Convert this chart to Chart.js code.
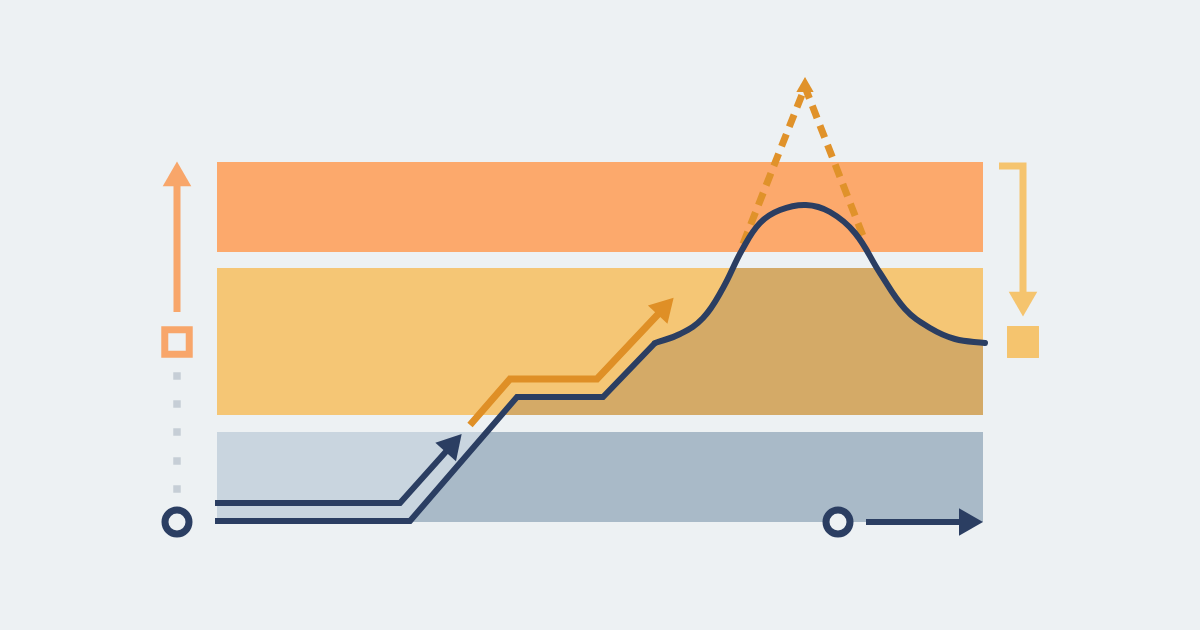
<!DOCTYPE html>
<html lang="en">
<head>
    <meta charset="UTF-8">
    <title>Band Climb Chart</title>
    <script src="https://cdn.jsdelivr.net/npm/chart.js"></script>
    <style>
        html, body {
            margin: 0;
            padding: 0;
            background: #edf1f3;
        }
        .chart-container {
            width: 1200px;
            height: 630px;
        }
    </style>
</head>
<body>
    <div class="chart-container">
        <canvas id="myChart"></canvas>
    </div>

    <script>
        // bands
        const bandLabels = ['upper', 'middle', 'lower'];
        const bandTop = [162, 268, 432];
        const bandBottom = [252, 415, 522];
        const bandFrom = [217, 217, 217];
        const bandTo = [983, 983, 983];

        // main navy line: stepped part, then the bell
        const stepX = [215, 410, 517, 603, 655];
        const stepY = [521, 521, 397, 397, 343];
        const peakX = [655, 680, 703, 723, 742, 760, 780, 806, 830, 855, 880, 905, 930, 955, 985];
        const peakY = [343, 334, 318, 288, 250, 223, 210, 205, 212, 233, 273, 309, 328, 339, 343];

        // arrows
        const guideX = [215, 400, 451];
        const guideY = [503, 503, 446];
        const climbX = [470, 510, 597, 663];
        const climbY = [425, 379, 379, 309];
        const spikeX = [743, 805, 863];
        const spikeY = [244, 87, 236];
        const riseX = [177, 177];
        const riseY = [312, 178];
        const dropX = [999, 1023, 1023];
        const dropY = [166, 166, 300];
        const runX = [866, 967];
        const runY = [522, 522];

        // markers
        const dotX = [177, 177, 177, 177, 177];
        const dotY = [376, 404, 432, 461, 489];
        const ringX = [177, 838];
        const ringY = [522, 522];
        const openBoxX = [177];
        const openBoxY = [342];
        const solidBoxX = [1023];
        const solidBoxY = [342];

        const bg = '#edf1f3';
        const navy = '#2b3e62';
        const bandColors = ['#fca96c', '#f5c675', '#c9d5df'];
        const shadeColors = [null, '#d4aa67', '#a9bac8'];

        function pts(xs, ys) {
            return xs.map((x, i) => ({x: x, y: ys[i]}));
        }

        function heading(xs, ys) {
            const n = xs.length;
            return Math.atan2(xs[n - 1] - xs[n - 2], ys[n - 2] - ys[n - 1]) * 180 / Math.PI;
        }

        function arrowLine(label, xs, ys, color, width, head) {
            const n = xs.length;
            return {
                label: label,
                data: pts(xs, ys),
                borderColor: color,
                borderWidth: width,
                borderJoinStyle: 'miter',
                tension: 0,
                fill: false,
                pointStyle: 'triangle',
                pointRadius: xs.map((_, i) => i === n - 1 ? head : 0),
                pointRotation: heading(xs, ys),
                pointBackgroundColor: color,
                pointBorderWidth: 0
            };
        }

        function markers(label, xs, ys, style, radius, fillColor, edgeColor, edge) {
            return {
                label: label,
                data: pts(xs, ys),
                showLine: false,
                pointStyle: style,
                pointRadius: radius,
                pointBackgroundColor: fillColor,
                pointBorderColor: edgeColor,
                pointBorderWidth: edge
            };
        }

        // darkens each band below the main line
        const underShade = {
            id: 'underShade',
            beforeDatasetsDraw(chart) {
                const ctx = chart.ctx;
                const xs = chart.scales.x, ys = chart.scales.y;
                const floor = ys.getPixelForValue(ys.max);
                const metas = ['steps', 'peak'].map(l =>
                    chart.getDatasetMeta(chart.data.datasets.findIndex(d => d.label === l)));

                bandLabels.forEach((name, b) => {
                    if (!shadeColors[b]) return;
                    const x0 = xs.getPixelForValue(bandFrom[b]);
                    const x1 = xs.getPixelForValue(bandTo[b]);
                    const y0 = ys.getPixelForValue(bandTop[b]);
                    const y1 = ys.getPixelForValue(bandBottom[b]);
                    ctx.save();
                    ctx.beginPath();
                    ctx.rect(x0, y0, x1 - x0, y1 - y0);
                    ctx.clip();
                    ctx.beginPath();
                    metas.forEach(meta => {
                        const line = meta.dataset;
                        line.updateControlPoints(chart.chartArea, 'x');
                        const curved = line.options.tension > 0 || line.options.cubicInterpolationMode === 'monotone';
                        const p = meta.data;
                        ctx.moveTo(p[0].x, p[0].y);
                        for (let i = 1; i < p.length; i++) {
                            if (curved) {
                                ctx.bezierCurveTo(p[i - 1].cp2x, p[i - 1].cp2y, p[i].cp1x, p[i].cp1y, p[i].x, p[i].y);
                            } else {
                                ctx.lineTo(p[i].x, p[i].y);
                            }
                        }
                        ctx.lineTo(p[p.length - 1].x, floor);
                        ctx.lineTo(p[0].x, floor);
                        ctx.closePath();
                    });
                    ctx.fillStyle = shadeColors[b];
                    ctx.fill();
                    ctx.restore();
                });
            }
        };

        const datasets = [
            markers('rings', ringX, ringY, 'circle', 12, bg, navy, 7),
            markers('openBox', openBoxX, openBoxY, 'rect', 17.3, bg, '#f8a66a', 7),
            markers('solidBox', solidBoxX, solidBoxY, 'rect', 22.6, '#f5c46e', '#f5c46e', 0),
            markers('dots', dotX, dotY, 'rect', 5.3, '#c6ced6', '#c6ced6', 0),
            {
                label: 'steps',
                data: pts(stepX, stepY),
                borderColor: navy,
                borderWidth: 6,
                borderJoinStyle: 'miter',
                tension: 0,
                pointRadius: 0,
                fill: false
            },
            {
                label: 'peak',
                data: pts(peakX, peakY),
                borderColor: navy,
                borderWidth: 6,
                borderCapStyle: 'round',
                tension: 0.4,
                pointRadius: 0,
                fill: false
            },
            arrowLine('guide', guideX, guideY, navy, 6, 16),
            arrowLine('climb', climbX, climbY, '#df8f26', 7, 15.5),
            Object.assign(arrowLine('spike', spikeX, spikeY, '#e0922a', 7, 10), {
                borderDash: [13, 8],
                pointRadius: [0, 10, 0],
                pointRotation: 0
            }),
            arrowLine('rise', riseX, riseY, '#f8a66a', 7, 16.5),
            arrowLine('drop', dropX, dropY, '#f5c46e', 7, 16.5),
            arrowLine('run', runX, runY, navy, 6, 16)
        ];

        bandLabels.forEach((name, b) => {
            datasets.push({
                label: name,
                data: pts([bandFrom[b], bandTo[b]], [bandTop[b], bandTop[b]]),
                borderColor: 'rgba(0,0,0,0)',
                borderWidth: 0,
                pointRadius: 0,
                backgroundColor: bandColors[b],
                fill: {value: bandBottom[b]}
            });
        });

        const ctx = document.getElementById('myChart').getContext('2d');
        window.myChart = new Chart(ctx, {
            type: 'line',
            data: {datasets: datasets},
            options: {
                responsive: true,
                maintainAspectRatio: false,
                animation: false,
                events: [],
                layout: {padding: 0, autoPadding: false},
                scales: {
                    x: {type: 'linear', min: 0, max: 1200, display: false},
                    y: {type: 'linear', min: 0, max: 630, reverse: true, display: false}
                },
                plugins: {
                    legend: {display: false},
                    tooltip: {enabled: false},
                    filler: {drawTime: 'beforeDatasetsDraw'}
                }
            },
            plugins: [underShade]
        });
    </script>
</body>
</html>
